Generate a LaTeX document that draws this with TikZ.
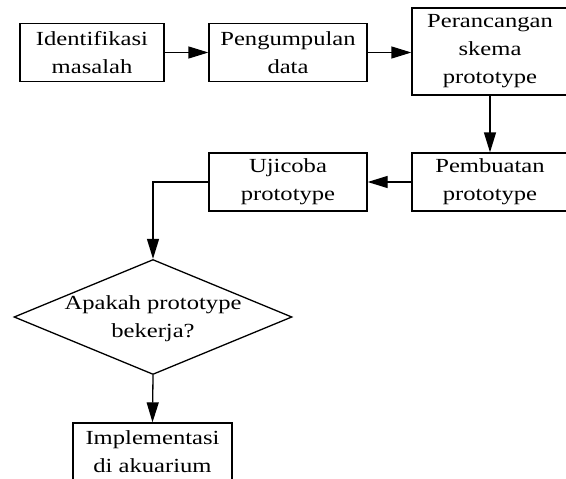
\documentclass[tikz,border=0pt]{standalone}
\usepackage{fontspec}
\usepackage{graphicx}
\setmainfont{Liberation Serif}
\newcommand\sx[1]{\scalebox{1.23}[1]{#1}}
\usetikzlibrary{shapes.geometric,arrows.meta}
\begin{document}
\begin{tikzpicture}[x=1pt,y=-1pt,
  every node/.style={font=\fontsize{20}{28}\selectfont, align=center, inner sep=0pt},
  box/.style={draw, line width=1.3pt, rectangle, minimum height=58pt},
  arr/.style={line width=1.3pt, -{Triangle[length=20pt,width=12pt]}}]
\useasboundingbox (0,0) rectangle (566,479);
\clip (0,0) rectangle (566,479);
\node[box, minimum width=144pt] (b1) at (92,52.5) {\sx{Identifikasi}\\\sx{masalah}};
\node[box, minimum width=158pt] (b2) at (288,52.5) {\sx{Pengumpulan}\\\sx{data}};
\node[box, minimum width=156pt, minimum height=87pt] (b3) at (490,51.5) {\sx{Perancangan}\\\sx{skema}\\\sx{prototype}};
\node[box, minimum width=156pt] (b4) at (490,182) {\sx{Pembuatan}\\\sx{prototype}};
\node[box, minimum width=158pt] (b5) at (288,182) {\sx{Ujicoba}\\\sx{prototype}};
\node[draw, line width=1.3pt, diamond, minimum width=278pt, minimum height=115pt] (d) at (153,317) {};
\node (dt) at (153,319) {\sx{Apakah prototype}\\\sx{bekerja?}};
\node[box, minimum width=159pt] (b6) at (152.5,452) {\sx{Implementasi}\\\sx{di akuarium}};
\draw[arr] (b1.east) -- (b2.west);
\draw[arr] (b2.east) -- (b3.west |- b2.east);
\draw[arr] (b3.south) -- (b4.north);
\draw[arr] (b4.west) -- (b5.east);
\draw[arr] (b5.west) -| (d.north);
\draw[arr] (d.south) -- (b6.north);
\end{tikzpicture}
\end{document}
